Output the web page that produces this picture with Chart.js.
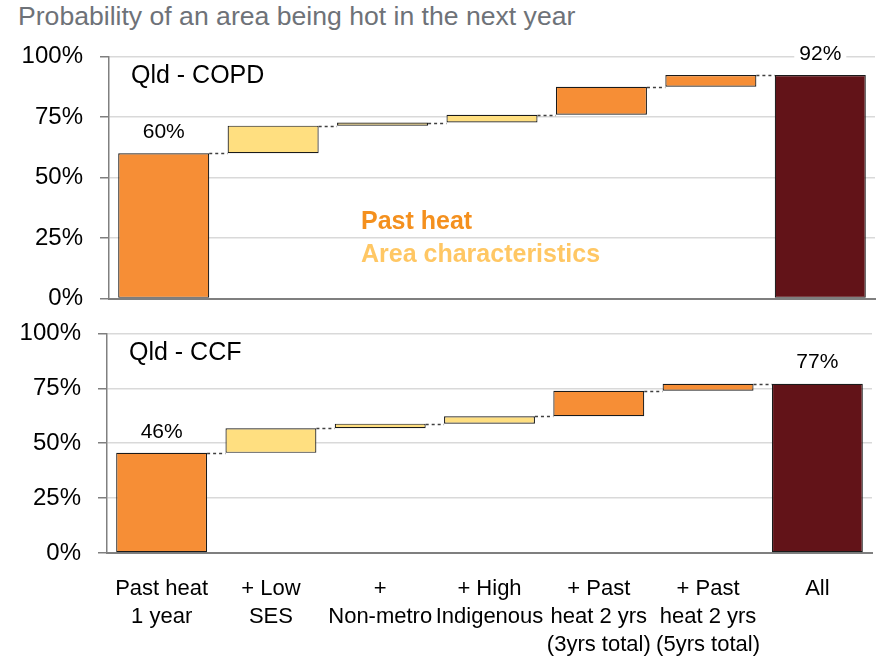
<!DOCTYPE html>
<html>
<head>
<meta charset="utf-8">
<script src="https://cdn.jsdelivr.net/npm/chart.js@4.4.1/dist/chart.umd.min.js"></script>
<style>
    body { margin: 0; background: #fff; width: 876px; height: 657px; position: relative; overflow: hidden; font-family: "Liberation Sans", Arial, sans-serif; }
    #title { position: absolute; left: 18px; top: 0; height: 32px; line-height: 32px; font-size: 26.6px; color: #6e7278; white-space: nowrap; }
    canvas { position: absolute; left: 0; }
</style>
</head>
<body>
<div id="title">Probability of an area being hot in the next year</div>
<canvas id="copdChart" width="876" height="305" style="top:25px"></canvas>
<canvas id="ccfChart" width="876" height="355" style="top:302px"></canvas>

<script>
// DATOS
const categories = [
    ['Past heat', '1 year'],
    ['+ Low', 'SES'],
    ['+', 'Non-metro'],
    ['+ High', 'Indigenous'],
    ['+ Past', 'heat 2 yrs', '(3yrs total)'],
    ['+ Past', 'heat 2 yrs', '(5yrs total)'],
    'All'
];
// tipo de cada paso: calor pasado / caracteristicas del area / total
const stepGroups = ['heat', 'area', 'area', 'area', 'heat', 'heat', 'total'];
// nivel acumulado despues de cada paso (%)
const copdLevels = [60, 71.4, 72.7, 75.9, 87.5, 92.3];
const ccfLevels = [45.6, 56.8, 58.9, 62.3, 73.9, 77.1];
const yTicks = [0, 25, 50, 75, 100];

const groupColors = { heat: '#f68e36', area: '#ffdf80', total: '#621318' };

// barras flotantes a partir de los niveles
function waterfall(levels) {
    const bars = levels.map((v, i) => [i === 0 ? 0 : levels[i - 1], v]);
    bars.push([0, levels[levels.length - 1]]);
    return bars;
}

// plugin: conectores, etiquetas y textos
const extras = {
    id: 'extras',
    beforeDatasetsDraw(chart, args, opts) {
        const meta = chart.getDatasetMeta(0);
        const y = chart.scales.y;
        const ctx = chart.ctx;
        ctx.save();
        ctx.strokeStyle = '#404040';
        ctx.lineWidth = 1.5;
        ctx.setLineDash([3, 3]);
        for (let i = 0; i < opts.levels.length; i++) {
            const a = meta.data[i], b = meta.data[i + 1];
            const py = Math.round(y.getPixelForValue(opts.levels[i])) + 0.5;
            ctx.beginPath();
            ctx.moveTo(a.x + a.width / 2, py);
            ctx.lineTo(b.x - b.width / 2, py);
            ctx.stroke();
        }
        ctx.restore();
    },
    afterDatasetsDraw(chart, args, opts) {
        const meta = chart.getDatasetMeta(0);
        const y = chart.scales.y;
        const ctx = chart.ctx;
        const area = chart.chartArea;
        ctx.save();
        ctx.font = '21px "Liberation Sans", Arial, sans-serif';
        ctx.textAlign = 'center';
        ctx.textBaseline = 'middle';
        const last = opts.levels.length - 1;
        [0, meta.data.length - 1].forEach(i => {
            const v = i === 0 ? opts.levels[0] : opts.levels[last];
            const txt = Math.round(v) + '%';
            const px = meta.data[i].x;
            const py = y.getPixelForValue(v) - 21;
            const w = ctx.measureText(txt).width;
            ctx.fillStyle = '#fff';
            ctx.fillRect(px - w / 2 - 5, py - 8, w + 10, 16);
            ctx.fillStyle = '#000';
            ctx.fillText(txt, px, py);
        });
        // titulo del panel
        ctx.textAlign = 'left';
        ctx.font = '25px "Liberation Sans", Arial, sans-serif';
        ctx.fillText(opts.panel, area.left + 22, area.top + 20);
        // leyenda
        if (opts.legend) {
            ctx.textBaseline = 'alphabetic';
            ctx.font = 'bold 25px "Liberation Sans", Arial, sans-serif';
            ctx.fillStyle = '#f4901e';
            ctx.fillText('Past heat', 361, area.top + 173);
            ctx.fillStyle = '#ffc764';
            ctx.fillText('Area characteristics', 361, area.top + 206);
        }
        ctx.restore();
    }
};

function makeChart(id, levels, panel, cfg) {
    const ctx = document.getElementById(id).getContext('2d');
    return new Chart(ctx, {
        type: 'bar',
        data: {
            labels: categories,
            datasets: [{
                data: waterfall(levels),
                backgroundColor: stepGroups.map(g => groupColors[g]),
                borderColor: '#1a1a1a',
                borderWidth: 1.2,
                borderSkipped: false,
                categoryPercentage: 1,
                barPercentage: 0.832
            }]
        },
        options: {
            responsive: false,
            animation: false,
            devicePixelRatio: 1,
            layout: { padding: cfg.padding },
            scales: {
                x: {
                    grid: { display: false },
                    border: { color: '#7f7f7f', width: 2 },
                    ticks: {
                        display: cfg.showX,
                        autoSkip: false,
                        maxRotation: 0,
                        padding: 14,
                        color: '#000',
                        font: { family: '"Liberation Sans", Arial, sans-serif', size: 22, lineHeight: 1.27 }
                    },
                    afterFit: s => { s.height = cfg.xHeight; }
                },
                y: {
                    min: 0,
                    max: 100,
                    afterBuildTicks: s => { s.ticks = yTicks.map(v => ({ value: v })); },
                    grid: { color: '#d9d9d9', lineWidth: 1.5, tickColor: '#7f7f7f', tickLength: 9 },
                    border: { color: '#808080', width: 1.5 },
                    ticks: {
                        padding: 17,
                        color: '#000',
                        font: { family: '"Liberation Sans", Arial, sans-serif', size: 24 },
                        callback: v => v + '%'
                    },
                    afterFit: s => { s.width = cfg.yWidth; }
                }
            },
            plugins: {
                legend: { display: false },
                tooltip: { enabled: false },
                extras: { levels: levels, panel: panel, legend: cfg.legend }
            }
        },
        plugins: [extras]
    });
}

makeChart('copdChart', copdLevels, 'Qld - COPD', {
    padding: { top: 0, right: 1, bottom: 0, left: 0 },
    showX: false, xHeight: 0, yWidth: 109, legend: true
});
makeChart('ccfChart', ccfLevels, 'Qld - CCF', {
    padding: { top: 0, right: 4, bottom: 0, left: 0 },
    showX: true, xHeight: 104, yWidth: 107, legend: false
});
</script>
</body>
</html>
